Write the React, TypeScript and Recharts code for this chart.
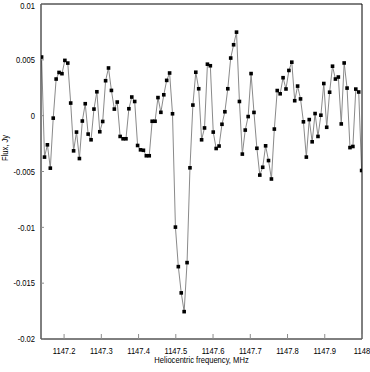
import React from 'react'
import { LineChart, Line, XAxis, YAxis, Label } from 'recharts'

// spectrum channels: 7.8125 kHz wide, starting at the left edge of the band
const FREQ_START = 1147.1396
const CHANNEL_WIDTH = 0.0078125

// flux density per channel, Jy
const FLUX = [
  0.00525, -0.00371, -0.00261, -0.0047, -0.00022, 0.00328, 0.00387, 0.00376, 0.00495, 0.00471,
  0.00113, -0.00315, -0.00147, -0.00384, -0.00048, 0.00107, -0.00165, -0.00216, 0.00059, 0.00214,
  -0.00144, -0.00052, 0.00313, 0.00427, 0.00226, 0.00059, 0.00122, -0.00186, -0.00207, -0.00207,
  0.00062, 0.00167, 0.00127, -0.00267, -0.00306, -0.0031, -0.00359, -0.00359, -0.0005, -0.0005,
  0.00162, 0.0003, 0.00187, 0.00316, 0.00382, 0.00017, -0.00998, -0.01352, -0.01587, -0.01755,
  -0.01316, -0.00467, 0.00095, 0.00389, 0.00241, -0.00216, -0.0011, 0.00461, 0.00447, -0.00147,
  -0.00294, -0.00272, -0.00077, 0.00035, 0.00241, 0.00516, 0.00635, 0.00748, 0.00127, -0.00344,
  -0.00129, -0.00008, 0.00377, 0.00029, -0.00292, -0.00532, -0.00462, -0.0027, -0.00402, -0.00567,
  -0.0012, 0.00225, 0.00196, 0.0034, 0.00239, 0.00405, 0.00479, 0.00134, 0.00265, 0.0015,
  -0.00055, -0.00371, -0.00035, -0.00234, 0.00019, -0.00186, 0.00004, 0.00288, -0.00104, 0.0021,
  0.00443, 0.00328, 0.00346, -0.00074, 0.00472, 0.00247, -0.00286, -0.00276, 0.00238, 0.00212,
  -0.00491,
]

const X_TICKS = [1147.2, 1147.3, 1147.4, 1147.5, 1147.6, 1147.7, 1147.8, 1147.9, 1148]
const Y_TICKS = [0.01, 0.005, 0, -0.005, -0.01, -0.015, -0.02]
const X_DOMAIN = [1147.138, 1148]
const Y_DOMAIN = [-0.02, 0.01]

const FONT = "'Liberation Sans Narrow', 'Arial Narrow', 'Liberation Sans', Arial, sans-serif"
const FONT_SIZE = 9.5
const SQUEEZE = 0.8 // the original lettering is very condensed
const TICK_GAP = 6
const TICK_GREY = '#8c8c8c'

const data = FLUX.map((flux, i) => ({ freq: FREQ_START + i * CHANNEL_WIDTH, flux }))

// narrow text: draw at (x, y) and squeeze horizontally
function NarrowText({ x, y, anchor = 'middle', rotate = 0, children }: any) {
  return (
    <text
      transform={`translate(${x} ${y}) rotate(${rotate}) scale(${SQUEEZE} 1)`}
      textAnchor={anchor}
      fontSize={FONT_SIZE}
      fontFamily={FONT}
      fill="#000"
    >
      {children}
    </text>
  )
}

function BottomTick({ x, y, payload }: any) {
  const axisY = y - TICK_GAP
  return (
    <g>
      <line x1={x} x2={x} y1={axisY} y2={axisY - 5} stroke={TICK_GREY} />
      <NarrowText x={x} y={axisY + 15}>{payload.value}</NarrowText>
    </g>
  )
}

function LeftTick({ x, y, payload }: any) {
  const axisX = x + TICK_GAP
  const nudge = payload.value === Y_DOMAIN[1] ? 2 : 0
  return (
    <g>
      <line x1={axisX} x2={axisX + 3} y1={y} y2={y} stroke={TICK_GREY} />
      <NarrowText x={axisX - 6} y={y + 3.3 + nudge} anchor="end">{payload.value}</NarrowText>
    </g>
  )
}

function SquareDot({ cx, cy, index }: any) {
  return <rect key={index} x={cx - 1.8} y={cy - 1.8} width={3.6} height={3.6} fill="#000" />
}

export default function App() {
  return (
    <div style={{ position: 'absolute', left: 0, top: 0, background: '#fff' }}>
      <LineChart width={370} height={372} data={data} margin={{ top: 4, right: 8, bottom: 0, left: 0 }}>
        <XAxis
          dataKey="freq"
          type="number"
          domain={X_DOMAIN}
          ticks={X_TICKS}
          interval={0}
          allowDataOverflow
          height={33}
          tickSize={0}
          tickMargin={TICK_GAP}
          tickLine={false}
          tick={<BottomTick />}
          axisLine={{ stroke: '#000' }}
        >
          <Label
            content={({ viewBox }: any) => (
              <NarrowText x={viewBox.x + viewBox.width / 2} y={viewBox.y + viewBox.height - 9}>
                Heliocentric frequency, MHz
              </NarrowText>
            )}
          />
        </XAxis>
        <XAxis
          xAxisId="top"
          dataKey="freq"
          type="number"
          orientation="top"
          domain={X_DOMAIN}
          ticks={X_TICKS}
          interval={0}
          allowDataOverflow
          mirror
          height={30}
          tick={false}
          tickSize={4}
          tickLine={{ stroke: TICK_GREY }}
          axisLine={{ stroke: '#000' }}
        />
        <YAxis
          type="number"
          domain={Y_DOMAIN}
          ticks={Y_TICKS}
          interval={0}
          allowDataOverflow
          width={41}
          tickSize={0}
          tickMargin={TICK_GAP}
          tickLine={false}
          tick={<LeftTick />}
          axisLine={{ stroke: '#000' }}
        >
          <Label
            content={() => (
              <NarrowText x={8} y={148} rotate={-90}>Flux, Jy</NarrowText>
            )}
          />
        </YAxis>
        <YAxis
          yAxisId="right"
          type="number"
          orientation="right"
          domain={Y_DOMAIN}
          ticks={Y_TICKS}
          interval={0}
          allowDataOverflow
          mirror
          width={30}
          tick={false}
          tickSize={4}
          tickLine={{ stroke: TICK_GREY }}
          axisLine={{ stroke: '#000' }}
        />
        <Line
          type="linear"
          dataKey="flux"
          stroke="#8a8a8a"
          strokeWidth={1}
          dot={<SquareDot />}
          activeDot={false}
          isAnimationActive={false}
        />
      </LineChart>
    </div>
  )
}
